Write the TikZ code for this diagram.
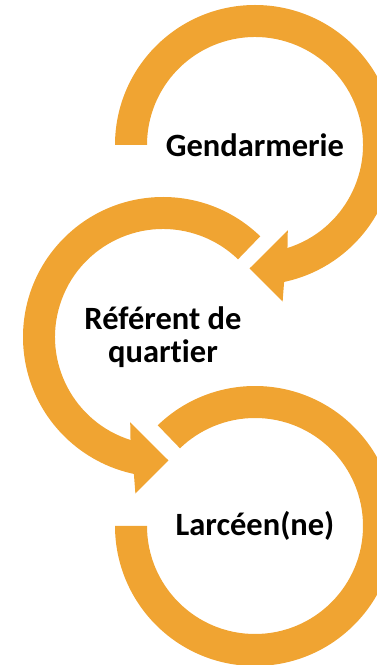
\documentclass[tikz,border=0pt]{standalone}
\usepackage{fontspec}
\setmainfont{Carlito}[Ligatures=NoCommon]
\usetikzlibrary{positioning}
\definecolor{ringorange}{RGB}{240,164,50}

\begin{document}
\begin{tikzpicture}[x=1pt,y=1pt,
  lbl/.style={font=\bfseries\fontsize{32.5}{33}\selectfont,align=center,inner sep=0pt},
  ring/.style={fill=ringorange}]
\useasboundingbox (0,0) rectangle (377,665);
\node[lbl] (gend) at (255,520) {Gendarmerie};
\node[lbl] (ref) at (163,328) {Référent de\\quartier};
\node[lbl] (lyc) at (255,139) {Larcéen(ne)};
% top ring, ends in a head pointing to the middle ring
\fill[ring] ([shift={(180:140pt)}]gend.center) arc[start angle=180,end angle=-78,radius=140pt]
  -- ([shift={(-80:159pt)}]gend.center) -- ([shift={(-92.5:123.5pt)}]gend.center)
  -- ([shift={(-69:91.5pt)}]gend.center) -- ([shift={(-72.5:108pt)}]gend.center)
  arc[start angle=-72.5,end angle=180,radius=108pt] -- cycle;
% middle ring, head towards the bottom ring
\fill[ring] ([shift={(46:140pt)}]ref.center) arc[start angle=46,end angle=258,radius=140pt]
  -- ([shift={(260:159pt)}]ref.center) -- ([shift={(272.5:123.5pt)}]ref.center)
  -- ([shift={(249:91.5pt)}]ref.center) -- ([shift={(252.5:108pt)}]ref.center)
  arc[start angle=252.5,end angle=46,radius=108pt] -- cycle;
% bottom ring
\fill[ring] ([shift={(134:140pt)}]lyc.center) arc[start angle=134,end angle=-180,radius=140pt]
  -- ([shift={(180:108pt)}]lyc.center)
  arc[start angle=-180,end angle=134,radius=108pt] -- cycle;
\end{tikzpicture}
\end{document}
